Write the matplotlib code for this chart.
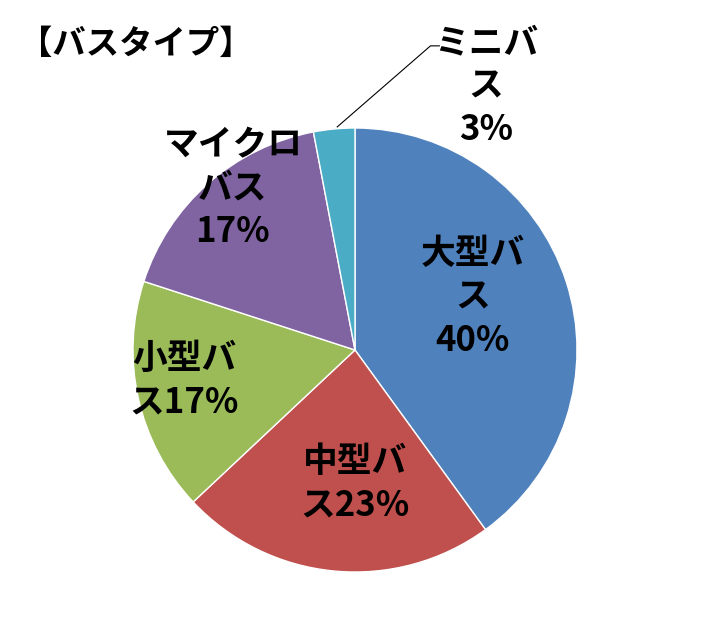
import matplotlib.pyplot as plt

plt.rcParams['font.family'] = ['Noto Sans CJK JP', 'DejaVu Sans']

# slice data (clockwise from top)
labels = ['大型バ\nス\n40%', '中型バ\nス23%', '小型バ\nス17%', 'マイクロ\nバス\n17%', 'ミニバ\nス\n3%']
shares = [40, 23, 17, 17, 3]
colors = ['#4F81BD', '#C0504D', '#9BBB59', '#8064A2', '#4BACC6']

# label spots in pie units (radius = 1)
label_xy = [(0.53, 0.24), (0.0, -0.60), (-0.77, -0.135), (-0.55, 0.73), (0.59, 1.19)]

fig = plt.figure(figsize=(7.1, 6.29), dpi=100)
ax = fig.add_axes([(355 - 222) / 710, 1 - (350 + 222) / 629, 444 / 710, 444 / 629])

wedges, _ = ax.pie(shares, colors=colors, startangle=90, counterclock=False,
                   radius=1.0, wedgeprops=dict(linewidth=1, edgecolor='white'))
ax.set_xlim(-1, 1)
ax.set_ylim(-1, 1)
ax.set_aspect('equal')

for txt, (x, y) in zip(labels, label_xy):
    ax.text(x, y, txt, ha='center', va='center', fontsize=25, fontweight='bold',
            linespacing=1.3, color='black')

# leader line for the small slice
ax.plot([-0.08, 0.34, 0.38], [1.005, 1.37, 1.37], color='black', lw=0.8, clip_on=False)

fig.text(19 / 710, 1 - 44 / 629, '【バスタイプ】', ha='left', va='center',
         fontsize=24, fontweight='bold')

fig.savefig('out.png', dpi=100)
